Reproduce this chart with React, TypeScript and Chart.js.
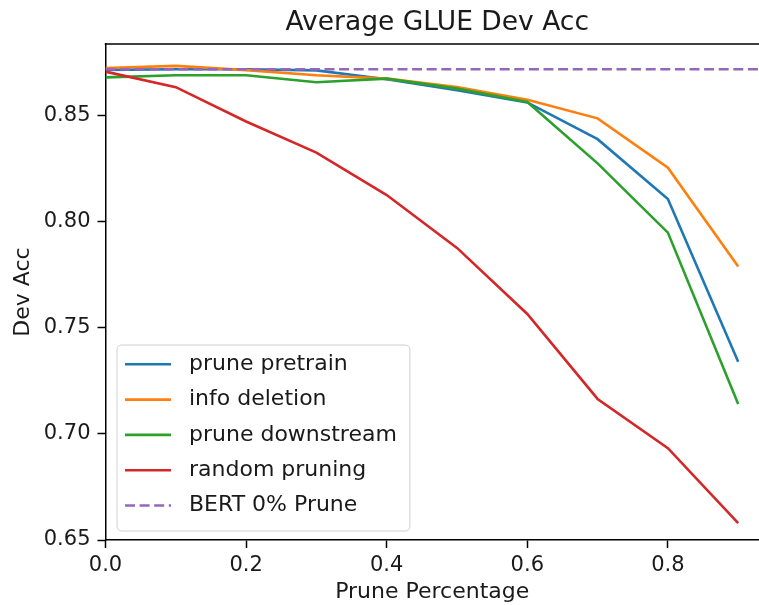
import React, { useEffect, useRef } from "react";
import { Chart, registerables } from "chart.js";

Chart.register(...registerables);

// ---- data ----
const prunePercent = [0, 0.1, 0.2, 0.3, 0.4, 0.5, 0.6, 0.7, 0.8, 0.9];
const prunePretrain = [0.8713, 0.8716, 0.8716, 0.8711, 0.8669, 0.8618, 0.856, 0.8387, 0.8105, 0.7339];
const infoDeletion = [0.8722, 0.8732, 0.8712, 0.8688, 0.8672, 0.8632, 0.8573, 0.8485, 0.8253, 0.7787];
const pruneDownstream = [0.8678, 0.8688, 0.8688, 0.8655, 0.8672, 0.8625, 0.8562, 0.8273, 0.7947, 0.714];
const randomPruning = [0.8705, 0.8632, 0.847, 0.8324, 0.8124, 0.7875, 0.7564, 0.7164, 0.6932, 0.6579];
const bertBaseline = 0.8716;

const seriesLabels = ["prune pretrain", "info deletion", "prune downstream", "random pruning", "BERT 0% Prune"];
const xTicks = [0, 0.2, 0.4, 0.6, 0.8];
const yTicks = [0.65, 0.7, 0.75, 0.8, 0.85];
const xRange = [0, 0.9296];
const yRange = [0.65, 0.8835];

const chartTitle = "Average GLUE Dev Acc";
const xTitle = "Prune Percentage";
const yTitle = "Dev Acc";

const COLORS = ["#1f77b4", "#ff7f0e", "#2ca02c", "#d62728", "#9467bd"];
const FONT = "'DejaVu Sans', sans-serif";
const TEXT = "#1a1a1a";
const LW = 2.6;
const DASH = [10, 4.6];

const titlePlugin = {
  id: "mplTitle",
  afterDraw(chart: any) {
    const { ctx, chartArea: a } = chart;
    ctx.save();
    ctx.fillStyle = TEXT;
    ctx.font = `26.5px ${FONT}`;
    ctx.textAlign = "center";
    ctx.textBaseline = "middle";
    ctx.fillText(chartTitle, (a.left + a.right) / 2 + 5, 23);
    ctx.restore();
  },
};

const spinePlugin = {
  id: "topSpine",
  afterDatasetsDraw(chart: any) {
    const { ctx, chartArea: a } = chart;
    ctx.save();
    ctx.strokeStyle = "#000";
    ctx.lineWidth = 1.5;
    ctx.beginPath();
    ctx.moveTo(a.left - 0.75, a.top);
    ctx.lineTo(a.right, a.top);
    ctx.stroke();
    ctx.restore();
  },
};

const legendPlugin = {
  id: "mplLegend",
  afterDatasetsDraw(chart: any) {
    const { ctx, chartArea: a } = chart;
    const datasets = chart.data.datasets;
    ctx.save();
    ctx.font = `22px ${FONT}`;
    let maxW = 0;
    datasets.forEach((d: any) => {
      maxW = Math.max(maxW, ctx.measureText(d.label).width);
    });
    const pitch = 35.3;
    const boxH = 186;
    const boxW = 8 + 46 + 18 + maxW + 13;
    const x0 = a.left + 11.5;
    const y0 = a.bottom - 9 - boxH;
    const r = 5;
    ctx.beginPath();
    ctx.moveTo(x0 + r, y0);
    ctx.lineTo(x0 + boxW - r, y0);
    ctx.quadraticCurveTo(x0 + boxW, y0, x0 + boxW, y0 + r);
    ctx.lineTo(x0 + boxW, y0 + boxH - r);
    ctx.quadraticCurveTo(x0 + boxW, y0 + boxH, x0 + boxW - r, y0 + boxH);
    ctx.lineTo(x0 + r, y0 + boxH);
    ctx.quadraticCurveTo(x0, y0 + boxH, x0, y0 + boxH - r);
    ctx.lineTo(x0, y0 + r);
    ctx.quadraticCurveTo(x0, y0, x0 + r, y0);
    ctx.closePath();
    ctx.fillStyle = "rgba(255,255,255,0.8)";
    ctx.fill();
    ctx.strokeStyle = "#d0d0d0";
    ctx.lineWidth = 1;
    ctx.stroke();

    datasets.forEach((d: any, i: number) => {
      const cy = y0 + 19.3 + i * pitch;
      ctx.beginPath();
      ctx.strokeStyle = d.borderColor;
      ctx.lineWidth = LW;
      ctx.setLineDash(d.borderDash || []);
      ctx.moveTo(x0 + 8, cy);
      ctx.lineTo(x0 + 54, cy);
      ctx.stroke();
      ctx.setLineDash([]);
      ctx.fillStyle = TEXT;
      ctx.textAlign = "left";
      ctx.textBaseline = "middle";
      ctx.fillText(d.label, x0 + 72, cy);
    });
    ctx.restore();
  },
};

export default function App() {
  const canvasRef = useRef<HTMLCanvasElement | null>(null);

  useEffect(() => {
    if (!canvasRef.current) return;
    const series = [prunePretrain, infoDeletion, pruneDownstream, randomPruning];
    const datasets: any[] = series.map((vals, i) => ({
      label: seriesLabels[i],
      data: prunePercent.map((x, j) => ({ x, y: vals[j] })),
      borderColor: COLORS[i],
      backgroundColor: COLORS[i],
      borderWidth: LW,
      pointRadius: 0,
      tension: 0,
      fill: false,
      order: 5 - i,
    }));
    datasets.push({
      label: seriesLabels[4],
      data: [
        { x: xRange[0], y: bertBaseline },
        { x: 1, y: bertBaseline },
      ],
      borderColor: COLORS[4],
      backgroundColor: COLORS[4],
      borderWidth: LW,
      borderDash: DASH,
      pointRadius: 0,
      fill: false,
      order: 1,
    });

    const tickFont = { family: FONT, size: 21 };
    const titleFont = { family: FONT, size: 22 };
    const chart = new Chart(canvasRef.current, {
      type: "line",
      data: { datasets },
      plugins: [titlePlugin, spinePlugin, legendPlugin],
      options: {
        responsive: false,
        animation: false,
        layout: { padding: { top: 44, left: 0, right: 0, bottom: 0 } },
        plugins: {
          legend: { display: false },
          title: { display: false },
          tooltip: { enabled: false },
        },
        scales: {
          x: {
            type: "linear",
            min: xRange[0],
            max: xRange[1],
            afterBuildTicks: (s: any) => {
              s.ticks = xTicks.map((v) => ({ value: v }));
            },
            afterFit: (s: any) => {
              s.height = 65;
            },
            grid: {
              display: true,
              drawOnChartArea: false,
              drawTicks: true,
              tickLength: 8,
              tickWidth: 1.5,
              tickColor: "#000",
            },
            border: { display: true, color: "#000", width: 1.5 },
            ticks: {
              color: TEXT,
              font: tickFont,
              padding: 5,
              maxRotation: 0,
              autoSkip: false,
              callback: (v: any) => Number(v).toFixed(1),
            },
            title: {
              display: true,
              text: xTitle,
              color: TEXT,
              font: titleFont,
              padding: { top: 0, bottom: 0 },
            },
          },
          y: {
            type: "linear",
            min: yRange[0],
            max: yRange[1],
            afterBuildTicks: (s: any) => {
              s.ticks = yTicks.map((v) => ({ value: v }));
            },
            afterFit: (s: any) => {
              s.width = 105.5;
            },
            grid: {
              display: true,
              drawOnChartArea: false,
              drawTicks: true,
              tickLength: 8,
              tickWidth: 1.5,
              tickColor: "#000",
            },
            border: { display: true, color: "#000", width: 1.5 },
            ticks: {
              color: TEXT,
              font: tickFont,
              padding: 7,
              autoSkip: false,
              callback: (v: any) => Number(v).toFixed(2),
            },
            title: {
              display: true,
              text: yTitle,
              color: TEXT,
              font: titleFont,
              padding: { top: 10, bottom: 0 },
            },
          },
        },
      } as any,
    });
    return () => chart.destroy();
  }, []);

  return (
    <div style={{ position: "fixed", left: 0, top: 0, width: 759, height: 605, background: "#fff" }}>
      <canvas ref={canvasRef} width={759} height={605} style={{ display: "block" }} />
    </div>
  );
}
